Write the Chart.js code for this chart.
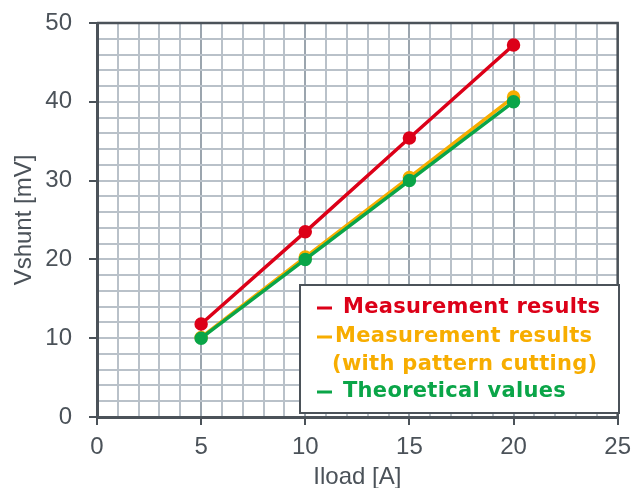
<!DOCTYPE html>
<html>
<head>
<meta charset="utf-8">
<script src="https://cdn.jsdelivr.net/npm/chart.js@4"></script>
<style>
  html, body { margin: 0; padding: 0; background: #fff; }
  #wrap { width: 639px; height: 488px; }
</style>
</head>
<body>
<div id="wrap"><canvas id="shunt-chart"></canvas></div>
<script>
// data
const loadCurrents = [5, 10, 15, 20];
const measured = [11.8, 23.5, 35.4, 47.2];
const measuredCut = [10.1, 20.3, 30.4, 40.6];
const theoretical = [10, 20, 30, 40];
const seriesLabels = [
    ['Measurement results'],
    ['Measurement results', '(with pattern cutting)'],
    ['Theoretical values']
];
const seriesColors = ['#dc0018', '#f7ad00', '#0aa548'];
// green sits on top of orange, like the original
const drawOrder = [0, 2, 1];

const AXIS_DARK = '#4b5259';
const GRID_MINOR = '#b9c1c9';
const GRID_MAJOR = '#9ba5ae';

function toPoints(ys) {
    return loadCurrents.map((x, i) => ({ x: x, y: ys[i] }));
}

function makeDataset(values, idx) {
    return {
        label: seriesLabels[idx].join(' '),
        data: toPoints(values),
        borderColor: seriesColors[idx],
        backgroundColor: seriesColors[idx],
        borderWidth: 3.5,
        pointRadius: 5,
        pointHoverRadius: 5,
        tension: 0,
        order: drawOrder[idx]
    };
}

// legend box drawn inside the plot area, lower right
const legendBox = {
    id: 'legendBox',
    afterDraw(chart) {
        const ctx = chart.ctx;
        const area = chart.chartArea;
        const x0 = area.left + 203, y0 = area.bottom - 132;
        const w = 319, h = 128;
        ctx.save();
        ctx.fillStyle = '#fff';
        ctx.fillRect(x0, y0, w, h);
        ctx.strokeStyle = AXIS_DARK;
        ctx.lineWidth = 2;
        ctx.strokeRect(x0, y0, w, h);

        ctx.font = 'bold 21px "DejaVu Sans", sans-serif';
        ctx.letterSpacing = '0.3px';
        ctx.textBaseline = 'middle';
        const rows = [
            { y: 23, textX: 43 },
            { y: 52, textX: 35 },
            { y: 107, textX: 43 }
        ];
        seriesLabels.forEach((lines, i) => {
            const r = rows[i];
            ctx.fillStyle = seriesColors[i];
            ctx.fillRect(x0 + 17, y0 + r.y - 1.5, 15, 3);
            lines.forEach((t, j) => {
                const tx = j === 0 ? r.textX : 32;
                ctx.fillText(t, x0 + tx, y0 + r.y + j * 28);
            });
        });
        ctx.restore();
    }
};

// darker frame on top and right of the plot
const plotFrame = {
    id: 'plotFrame',
    afterDatasetsDraw(chart) {
        const ctx = chart.ctx;
        const a = chart.chartArea;
        ctx.save();
        ctx.strokeStyle = AXIS_DARK;
        ctx.lineWidth = 2.5;
        ctx.beginPath();
        ctx.moveTo(a.left, a.top);
        ctx.lineTo(a.right, a.top);
        ctx.lineTo(a.right, a.bottom);
        ctx.stroke();
        ctx.restore();
    }
};

const tickFont = { family: '"Liberation Sans", Arial, sans-serif', size: 24 };

new Chart(document.getElementById('shunt-chart'), {
    type: 'line',
    data: {
        datasets: [
            makeDataset(measured, 0),
            makeDataset(measuredCut, 1),
            makeDataset(theoretical, 2)
        ]
    },
    options: {
        responsive: true,
        maintainAspectRatio: false,
        animation: false,
        layout: { padding: { top: 0, right: 15, left: 10, bottom: 0 } },
        plugins: {
            legend: { display: false },
            tooltip: { enabled: false }
        },
        scales: {
            x: {
                type: 'linear',
                min: 0,
                max: 25,
                afterFit: s => { s.height = 71; },
                ticks: {
                    stepSize: 1,
                    autoSkip: false,
                    maxRotation: 0,
                    color: AXIS_DARK,
                    font: tickFont,
                    padding: 8,
                    callback: v => (v % 5 === 0 ? v : '')
                },
                grid: {
                    color: c => (c.tick && c.tick.value % 5 === 0 ? GRID_MAJOR : GRID_MINOR),
                    lineWidth: 2,
                    tickLength: 8,
                    tickColor: c => (c.tick && c.tick.value % 5 === 0 ? AXIS_DARK : 'rgba(0,0,0,0)'),
                    tickWidth: 2
                },
                border: { color: AXIS_DARK, width: 3 },
                title: {
                    display: true,
                    text: 'Iload [A]',
                    color: AXIS_DARK,
                    font: tickFont,
                    padding: { top: 0, bottom: -4 }
                }
            },
            y: {
                min: 0,
                max: 50,
                afterFit: s => { s.width = 87; s.paddingTop = 23; },
                ticks: {
                    stepSize: 2,
                    autoSkip: false,
                    color: AXIS_DARK,
                    font: tickFont,
                    padding: 17,
                    callback: v => (v % 10 === 0 ? v : '')
                },
                grid: {
                    color: GRID_MINOR,
                    lineWidth: 2,
                    tickLength: 8,
                    tickColor: c => (c.tick && c.tick.value % 10 === 0 ? AXIS_DARK : 'rgba(0,0,0,0)'),
                    tickWidth: 2
                },
                border: { color: AXIS_DARK, width: 3 },
                title: {
                    display: true,
                    text: 'Vshunt [mV]',
                    color: AXIS_DARK,
                    font: tickFont,
                    padding: { top: 0, bottom: 0 }
                }
            }
        }
    },
    plugins: [plotFrame, legendBox]
});
</script>
</body>
</html>
